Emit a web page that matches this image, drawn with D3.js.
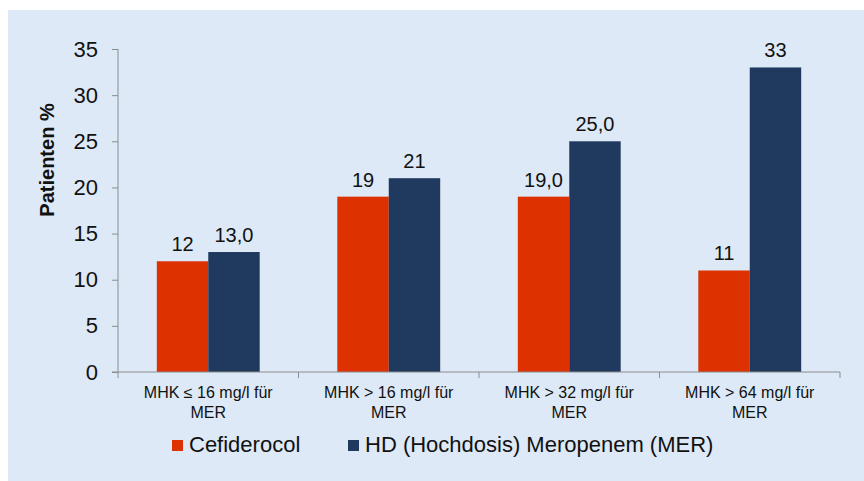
<!DOCTYPE html>
<html>
<head>
<meta charset="utf-8">
<script src="https://cdn.jsdelivr.net/npm/d3@7"></script>
<style>
  body { margin: 0; background: #fff; }
  text { font-family: "Liberation Sans", Arial, sans-serif; fill: #111; }
</style>
</head>
<body>
<div id="chart"></div>
<script>
const categories = [
    ["MHK ≤ 16 mg/l für", "MER"],
    ["MHK > 16 mg/l für", "MER"],
    ["MHK > 32 mg/l für", "MER"],
    ["MHK > 64 mg/l für", "MER"]
];
const cefiderocol = [12, 19, 19, 11];
const cefiderocolLabels = ["12", "19", "19,0", "11"];
const meropenem = [13, 21, 25, 33];
const meropenemLabels = ["13,0", "21", "25,0", "33"];
const yTicks = [0, 5, 10, 15, 20, 25, 30, 35];
const seriesNames = ["Cefiderocol", "HD (Hochdosis) Meropenem (MER)"];
const colors = ["#dd3100", "#203a5f"];

const W = 864, H = 481;
const margin = {left: 118, right: 24, top: 49, bottom: 109};
const width = W - margin.left - margin.right;
const height = H - margin.top - margin.bottom;

const root = d3.select("#chart")
    .append("svg")
    .attr("width", W)
    .attr("height", H);

// light blue panel
root.append("rect")
    .attr("x", 8).attr("y", 10)
    .attr("width", W - 8).attr("height", H - 10)
    .attr("fill", "#dde9f6");

const svg = root.append("g")
    .attr("transform", "translate(" + margin.left + "," + margin.top + ")");

const x0 = d3.scaleBand()
    .domain(d3.range(categories.length))
    .range([0, width])
    .padding(0);

const barW = x0.bandwidth() * 0.285;

const y = d3.scaleLinear()
    .domain([0, 35])
    .range([height, 0]);

// Y axis
const yAxis = svg.append("g")
    .call(d3.axisLeft(y).tickValues(yTicks).tickSize(6).tickPadding(14));
yAxis.select(".domain").attr("stroke", "#8c8c8c").attr("d", "M0," + height + "V0");
yAxis.selectAll(".tick line").attr("stroke", "#8c8c8c");
yAxis.selectAll("text")
    .style("font-size", "22px")
    .style("font-family", "Liberation Sans, Arial, sans-serif")
    .attr("fill", "#111");

// bars
const series = [cefiderocol, meropenem];
const seriesLabels = [cefiderocolLabels, meropenemLabels];
series.forEach(function(vals, s) {
    svg.selectAll(".bar" + s)
        .data(vals)
        .enter().append("rect")
        .attr("class", "bar" + s)
        .attr("x", function(d, i) { return x0(i) + x0.bandwidth() / 2 - barW + s * barW; })
        .attr("y", function(d) { return y(d); })
        .attr("width", barW)
        .attr("height", function(d) { return height - y(d); })
        .attr("fill", colors[s]);

    svg.selectAll(".lab" + s)
        .data(vals)
        .enter().append("text")
        .attr("class", "lab" + s)
        .attr("x", function(d, i) { return x0(i) + x0.bandwidth() / 2 - barW / 2 + s * barW; })
        .attr("y", function(d) { return y(d) - 10; })
        .attr("text-anchor", "middle")
        .style("font-size", "20px")
        .text(function(d, i) { return seriesLabels[s][i]; });
});

// X axis
const xAxis = svg.append("g")
    .attr("transform", "translate(0," + height + ")");
xAxis.append("line")
    .attr("x1", -6).attr("x2", width)
    .attr("stroke", "#8c8c8c");
xAxis.selectAll(".xt")
    .data(d3.range(categories.length + 1))
    .enter().append("line")
    .attr("x1", function(d) { return d * x0.bandwidth(); })
    .attr("x2", function(d) { return d * x0.bandwidth(); })
    .attr("y1", 0).attr("y2", 6)
    .attr("stroke", "#8c8c8c");

const catText = xAxis.selectAll(".cat")
    .data(categories)
    .enter().append("text")
    .attr("class", "cat")
    .attr("text-anchor", "middle")
    .attr("x", function(d, i) { return x0(i) + x0.bandwidth() / 2; })
    .attr("y", 26)
    .style("font-size", "16px");
catText.selectAll("tspan")
    .data(function(d) { return d; })
    .enter().append("tspan")
    .attr("x", function() { return d3.select(this.parentNode).attr("x"); })
    .attr("dy", function(d, i) { return i === 0 ? 0 : 20; })
    .text(function(d) { return d; });

// Y label
root.append("text")
    .attr("transform", "translate(54,160) rotate(-90)")
    .attr("text-anchor", "middle")
    .style("font-size", "20px")
    .style("font-weight", "bold")
    .text("Patienten %");

// legend
const legendPos = [172, 348];
seriesNames.forEach(function(name, s) {
    root.append("rect")
        .attr("x", legendPos[s]).attr("y", 440)
        .attr("width", 11).attr("height", 11)
        .attr("fill", colors[s]);
    root.append("text")
        .attr("x", legendPos[s] + 17).attr("y", 452)
        .style("font-size", "22px")
        .text(name);
});
</script>
</body>
</html>
